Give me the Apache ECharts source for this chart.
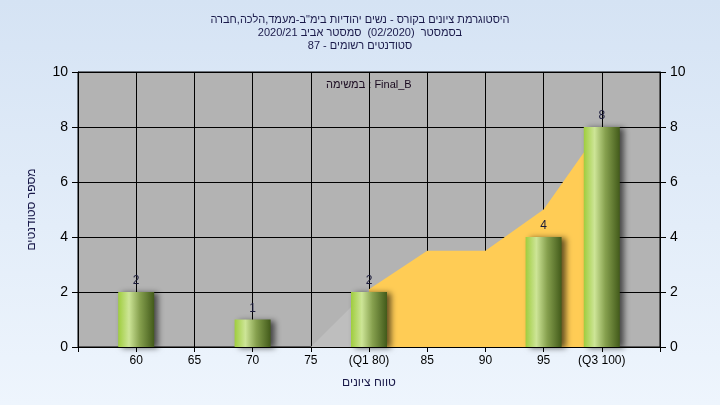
<!DOCTYPE html>
<html><head><meta charset="utf-8">
<script src="https://cdn.jsdelivr.net/npm/echarts@6/dist/echarts.min.js"></script>
<style>html,body{margin:0;padding:0;}#c{width:720px;height:405px;}</style>
</head><body><div id="c"></div>
<script>
const titleLines = ['היסטוגרמת ציונים בקורס - נשים יהודיות בימ"ב-מעמד,הלכה,חברה','בסמסטר  (02/2020)  סמסטר אביב 2020/21','סטודנטים רשומים - 87'];
const assignmentLabel = 'במשימה : Final_B';
const yAxisName = 'מספר סטודנטים';
const xAxisName = 'טווח ציונים';
const scoreBins = [60, 65, 70, 75, 80, 85, 90, 95, 100];
const counts = [2, 0, 1, 0, 2, 0, 0, 4, 8];
const tickLabels = ['60', '65', '70', '75', '(Q1 80)', '85', '90', '95', '(Q3 100)'];
const belowQ1X = [75, 80];
const belowQ1Y = [0, 2.1];
const iqrX = [80, 85, 90, 95, 100];
const iqrY = [2.1, 3.5, 3.5, 5, 8];

const chart = echarts.init(document.getElementById('c'), null, {renderer: 'canvas'});
const barData = scoreBins.map((x, i) => [x, counts[i]]).filter(d => d[1] > 0);
const labelMap = {};
scoreBins.forEach((x, i) => labelMap[x] = tickLabels[i]);
const font = 'Liberation Sans, Arial, sans-serif';
const barColor = new echarts.graphic.LinearGradient(0, 0, 1, 0, [
  {offset: 0, color: '#9fcd3e'},
  {offset: 0.3, color: '#cde597'},
  {offset: 0.6, color: '#86a04e'},
  {offset: 1, color: '#425a1a'}
]);
chart.setOption({
  animation: false,
  backgroundColor: new echarts.graphic.LinearGradient(0, 0, 0, 1, [
    {offset: 0, color: '#d5e3f4'}, {offset: 1, color: '#eef5fd'}
  ]),
  title: {
    text: titleLines.join('\n'), left: 'center', top: 8,
    textStyle: {fontFamily: font, fontSize: 11, fontWeight: 'normal', color: '#1a1a4a', lineHeight: 13}
  },
  graphic: [{
    type: 'text', left: 326, top: 79,
    style: {text: assignmentLabel, font: '11px ' + font, fill: '#1a0a20'}
  }],
  grid: {left: 78, right: 60, top: 72, bottom: 58, show: true, backgroundColor: '#b3b3b3', borderColor: '#000', borderWidth: 1},
  xAxis: {
    type: 'value', min: 55, max: 105, interval: 5,
    name: xAxisName, nameLocation: 'middle', nameGap: 30,
    nameTextStyle: {fontFamily: font, fontSize: 12, color: '#1a1a4a'},
    axisLine: {lineStyle: {color: '#000'}},
    axisTick: {show: true, length: 5, lineStyle: {color: '#000'}},
    axisLabel: {fontFamily: font, fontSize: 12, color: '#000', margin: 8,
      formatter: v => labelMap[v] || ''},
    splitLine: {show: true, lineStyle: {color: '#000', width: 1}}
  },
  yAxis: [{
    type: 'value', min: 0, max: 10, interval: 2, position: 'left',
    name: yAxisName, nameLocation: 'middle', nameGap: 40, nameRotate: 90,
    nameTextStyle: {fontFamily: font, fontSize: 12, color: '#1a1a4a'},
    axisLine: {show: true, lineStyle: {color: '#000'}},
    axisTick: {show: true, length: 6, lineStyle: {color: '#000'}},
    axisLabel: {fontFamily: font, fontSize: 14, color: '#000', margin: 10},
    splitLine: {show: true, lineStyle: {color: '#000', width: 1}}
  }, {
    type: 'value', min: 0, max: 10, interval: 2, position: 'right',
    axisLine: {show: true, lineStyle: {color: '#000'}},
    axisTick: {show: true, length: 6, lineStyle: {color: '#000'}},
    axisLabel: {fontFamily: font, fontSize: 14, color: '#000', margin: 10},
    splitLine: {show: false}
  }],
  series: [{
    type: 'line', data: belowQ1X.map((x, i) => [x, belowQ1Y[i]]),
    symbol: 'none', lineStyle: {width: 0}, areaStyle: {color: '#bebebe', opacity: 1}, z: 1
  }, {
    type: 'line', data: iqrX.map((x, i) => [x, iqrY[i]]),
    symbol: 'none', lineStyle: {width: 0}, areaStyle: {color: '#ffcc55', opacity: 1}, z: 1
  }, {
    type: 'bar', data: barData, barWidth: 36, z: 3,
    itemStyle: {color: barColor, shadowColor: 'rgba(0,0,0,0.6)', shadowBlur: 6, shadowOffsetX: 4, shadowOffsetY: 1},
    label: {show: true, position: 'top', distance: 5, fontFamily: font, fontSize: 12, color: '#1a1a3a'}
  }]
});
</script></body></html>
